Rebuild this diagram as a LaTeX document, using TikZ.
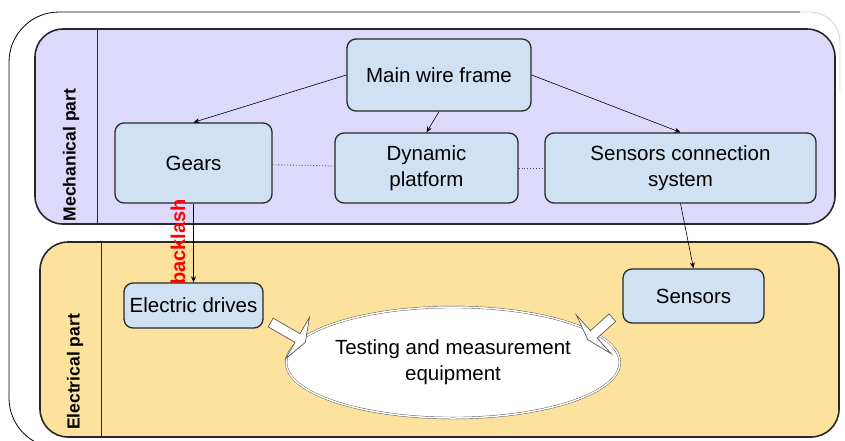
\documentclass[tikz,border=0pt]{standalone}
\usepackage{fontspec}
\setmainfont{Liberation Sans}
\usetikzlibrary{positioning,arrows.meta,shapes.geometric,calc}

\definecolor{mechfill}{RGB}{221,217,250}
\definecolor{elecfill}{RGB}{252,226,156}
\definecolor{boxfill}{RGB}{207,225,242}
\definecolor{edge}{RGB}{40,40,40}

\begin{document}
\begin{tikzpicture}[
  x=1pt, y=-1pt,
  every node/.style={font=\fontsize{20.5}{26}\selectfont},
  box/.style={rectangle, draw=edge, line width=1.3pt, rounded corners=9pt,
              fill=boxfill, align=center, inner sep=2pt},
  panel/.style={draw=edge, line width=1.6pt, rounded corners=28pt},
  partlabel/.style={rotate=90, font=\bfseries\fontsize{17.5}{21}\selectfont},
  arrow/.style={-{Stealth[length=6pt,width=5pt]}, line width=0.6pt},
  link/.style={dotted, line width=0.9pt, gray!60!black},
  blockarrow/.style={draw=gray!70!black, fill=white, line width=0.7pt}
]
  \useasboundingbox (0,0) rectangle (845,440);

  % outer frame
  \draw[line width=0.8pt, rounded corners=50pt] (70,448) -- (9,448) -- (9,12) -- (800,12);
  \draw[gray!35, line width=0.8pt, rounded corners=30pt] (800,12) -- (840,12) -- (840,90);

  % the two parts
  \draw[panel, fill=mechfill] (35,29) rectangle (835,224);
  \draw[edge, line width=1pt] (97,29) -- (97,224);
  \draw[panel, fill=elecfill] (40,242) rectangle (839,437);
  \draw[edge, line width=1pt] (101,242) -- (101,437);
  \node[partlabel] (mech) at (71,155) {Mechanical part};
  \node[partlabel] (elec) at (75,372) {Electrical part};

  % blocks
  \node[box, minimum width=184pt, minimum height=72pt] (main) at (439,75) {Main wire frame};
  \node[box, minimum width=157pt, minimum height=80pt] (gears) at (193.5,163) {Gears};
  \node[box, minimum width=183pt, minimum height=70pt] (dyn) at (426.5,168) {Dynamic\\platform};
  \node[box, minimum width=271pt, minimum height=70pt] (scs) at (680.5,168) {Sensors connection\\system};
  \node[box, minimum width=139pt, minimum height=45pt] (drives) at (193.5,305.5) {Electric drives};
  \node[box, minimum width=141pt, minimum height=54pt] (sensors) at (693.5,296) {Sensors};
  \node[ellipse, draw=gray!60!black, double=white, double distance=1.5pt, fill=white,
        minimum width=288pt, minimum height=111pt, align=center, inner sep=0pt]
        (test) at (453,362.5) {Testing and measurement\\equipment};

  \node[rotate=90, text=red, font=\bfseries\fontsize{20}{24}\selectfont] (backlash) at (178,242) {backlash};

  % connections
  \draw[arrow] (main.west) -- (gears.north);
  \draw[arrow] (main.south) -- (dyn.north);
  \draw[arrow] (main.east) -- (scs.north);
  \draw[arrow] (gears.south) -- (drives.north);
  \draw[arrow] (scs.south) -- (sensors.north);
  \draw[link] (gears) -- (dyn);
  \draw[link] (dyn) -- (scs);

  % block arrows into the equipment
  \coordinate (fromdrives) at ($(drives.east)+(7,17)$);
  \coordinate (fromsensors) at ($(sensors.south west)+(-10,-6)$);
  \draw[blockarrow, shift={(fromdrives)}, rotate=-30]
    (0,-5) -- (31,-5) -- (31,-24) -- (40,0) -- (31,24) -- (31,5) -- (0,5) -- cycle;
  \draw[blockarrow, shift={(fromsensors)}, rotate=-138]
    (0,-5) -- (25,-5) -- (25,-26) -- (33,0) -- (25,26) -- (25,5) -- (0,5) -- cycle;
\end{tikzpicture}
\end{document}
